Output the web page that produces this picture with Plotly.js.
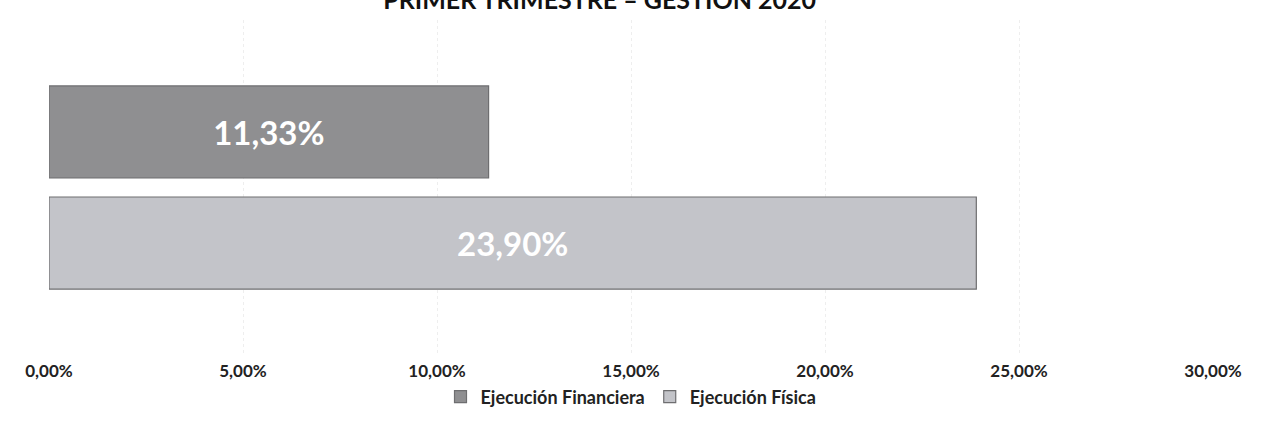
<!DOCTYPE html>
<html>
<head>
<meta charset="utf-8">
<script src="https://cdn.plot.ly/plotly-3.0.1.min.js"></script>
<style>
  html, body { margin: 0; padding: 0; background: #ffffff; }
  #chart { width: 1265px; height: 433px; outline: 1px dotted #cfcfcf; outline-offset: -5px; }
</style>
</head>
<body>
<div id="chart"></div>
<script>
const titleText = "PRIMER TRIMESTRE – GESTIÓN 2020";
const seriesNames = ["Ejecución Financiera", "Ejecución Física"];
const seriesValues = [11.33, 23.90];
const seriesColors = ["#8f8f91", "#c3c4c9"];
const tickValues = [0, 5, 10, 15, 20, 25, 30];
const tickLabels = ["0,00%", "5,00%", "10,00%", "15,00%", "20,00%", "25,00%", "30,00%"];

const font = "Lato, 'Open Sans', sans-serif";

const traces = seriesNames.map((name, i) => ({
  type: "bar",
  orientation: "h",
  name: name,
  x: [seriesValues[i]],
  y: [0],
  marker: { color: seriesColors[i], line: { color: "#6e6e70", width: 1.2 } },
  texttemplate: "%{x:.2f}%",
  textposition: "inside",
  insidetextanchor: "middle",
  textfont: { family: font, size: 33, color: "#ffffff", weight: "bold" },
  hoverinfo: "skip"
}));

const layout = {
  width: 1265,
  height: 433,
  separators: ",.",
  paper_bgcolor: "#ffffff",
  plot_bgcolor: "#ffffff",
  margin: { l: 49, r: 52, t: 20, b: 78 },
  title: {
    text: "<b>" + titleText + "</b>",
    font: { family: font, size: 25, color: "#111111" },
    x: 0.474, xanchor: "center",
    yref: "container", y: 1.0, yanchor: "middle"
  },
  barmode: "group",
  bargap: 0.337,
  bargroupgap: 0.171,
  xaxis: {
    range: [0, 30],
    tickmode: "array",
    tickvals: tickValues,
    ticktext: tickLabels,
    showgrid: true,
    gridcolor: "#eeeeee",
    griddash: "dot",
    zeroline: false,
    showline: false,
    ticks: "",
    ticklabelstandoff: 4,
    tickfont: { family: font, size: 17, color: "#222222", weight: "bold" },
    fixedrange: true
  },
  yaxis: {
    range: [0.5, -0.5],
    showticklabels: false,
    showgrid: false,
    zeroline: false,
    showline: false,
    fixedrange: true
  },
  showlegend: true,
  legend: {
    orientation: "h",
    x: 0.5, xanchor: "center",
    y: -0.125, yanchor: "middle",
    font: { family: font, size: 18, color: "#222222", weight: "bold" },
    itemwidth: 30,
    bgcolor: "rgba(0,0,0,0)"
  }
};

Plotly.newPlot("chart", traces, layout, { displayModeBar: false, staticPlot: true });
</script>
</body>
</html>
